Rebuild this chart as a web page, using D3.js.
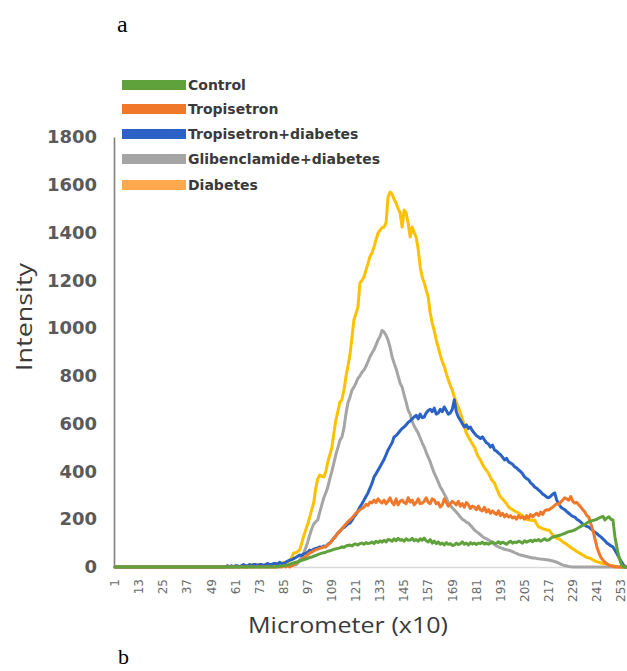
<!DOCTYPE html>
<html><head><meta charset="utf-8">
<script src="https://cdn.jsdelivr.net/npm/d3@7"></script>
<style>body{margin:0;background:#fff}svg{display:block}</style>
</head><body><svg id="c" width="627" height="671"></svg>
<script>
const categories = d3.range(1, 257);
const xTickLabels = [1,13,25,37,49,61,73,85,97,109,121,133,145,157,169,181,193,205,217,229,241,253];
const yTicks = [0,200,400,600,800,1000,1200,1400,1600,1800];
const seriesNames = ["Control","Tropisetron","Tropisetron+diabetes","Glibenclamide+diabetes","Diabetes"];

const control = [
0,0,0,0,0,0,0,0,0,0, 0,0,0,0,0,0,0,0,0,0, 0,0,0,0,0,0,0,0,0,0, 0,0,0,0,0,0,0,0,0,0, 0,0,0,0,0,0,0,0,0,0,
0,0,0,0,0,0,0,0,0,0, 0,0,0,0,0,0,0,0,0,0, 0,0,0,0,0,0,0,0,0,0,
0,2,3,4,5,6,8,10,15,17,
20,22,25,28,30,33,36,40,42,45,
48,52,55,58,60,62,66,68,71,74,
76,78,80,85,82,88,90,92,88,95,
96,92,98,100,95,102,98,100,105,98,
108,102,110,104,112,105,115,113,108,118,
110,120,112,115,108,118,112,113,120,110,
115,108,118,112,121,110,105,115,100,108,
98,105,95,100,92,102,95,98,90,92,
100,94,98,105,95,100,92,102,96,100,
94,100,98,104,96,100,95,100,105,98,
100,106,98,104,100,95,103,108,100,105,
102,108,105,100,110,104,108,112,106,113,
110,115,108,113,118,112,113,120,125,128,
130,132,134,138,140,145,148,150,152,155,
160,165,170,175,178,184,190,192,195,197,
200,205,209,212,197,205,210,200,197,126,
80,42,15,0,0,0];

const tropisetron = [
0,0,0,0,0,0,0,0,0,0, 0,0,0,0,0,0,0,0,0,0, 0,0,0,0,0,0,0,0,0,0, 0,0,0,0,0,0,0,0,0,0, 0,0,0,0,0,0,0,0,0,0,
0,0,0,0,0,0,0,0,0,0, 0,0,0,0,0,0,0,0,0,0, 0,0,0,0,0,0,0,0,0,0,
0,0,0,0,5,0,5,0,5,10,
15,20,25,30,38,45,52,59,62,68,
72,75,78,80,84,86,92,100,110,120,
130,142,150,160,170,180,190,197,205,215,
225,232,240,245,251,262,258,272,268,280,
270,285,275,268,280,265,275,290,270,260,
285,260,275,280,270,265,290,272,280,260,
270,285,265,268,275,290,270,265,285,280,
265,270,251,260,285,270,255,265,275,268,
260,275,255,265,250,270,260,245,255,250,
240,255,239,235,250,230,240,225,235,226,
220,235,215,225,210,220,209,215,205,210,
200,215,205,210,200,215,205,220,210,218,
225,215,230,220,235,240,239,245,250,258,
265,262,272,280,290,285,280,295,275,268,
270,260,251,240,230,215,209,180,155,120,
84,60,40,29,20,14,8,5,3,1,
0,0,0,0,0,0];

const tropisetronDiabetes = [
0,0,0,0,0,0,0,0,0,0, 0,0,0,0,0,0,0,0,0,0, 0,0,0,0,0,0,0,0,0,0, 0,0,0,0,0,0,0,0,0,0, 0,0,0,0,0,0,0,0,0,0,
0,0,0,0,0,0,5,0,5,0,
5,5,0,5,10,5,5,10,5,10,
10,5,10,10,5,10,15,10,10,15,
15,10,20,15,15,20,25,29,30,35,
40,45,50,48,55,58,62,71,68,75,
78,80,84,82,88,84,95,100,110,120,
130,142,150,160,165,172,180,184,195,210,
220,235,251,265,280,295,310,330,350,377,
390,405,420,435,450,470,490,505,520,544,
550,560,570,580,586,595,605,612,620,628,
635,620,640,625,628,645,655,660,650,665,
640,645,660,650,670,655,640,645,660,700,
650,628,615,600,586,595,580,586,570,560,
550,544,538,545,532,520,515,502,510,490,
485,477,470,460,448,455,440,435,430,420,
415,406,400,390,377,370,365,352,345,335,
330,322,315,305,300,293,290,296,305,310,
280,265,251,245,240,232,225,218,212,209,
200,195,188,180,175,170,167,160,152,145,
140,132,126,118,110,100,95,88,84,70,
55,40,25,12,0,0];

const glibenclamideDiabetes = [
0,0,0,0,0,0,0,0,0,0, 0,0,0,0,0,0,0,0,0,0, 0,0,0,0,0,0,0,0,0,0, 0,0,0,0,0,0,0,0,0,0, 0,0,0,0,0,0,0,0,0,0,
0,0,0,0,0,0,0,0,0,0,
0,0,0,5,0,0,0,5,0,0,
5,5,0,5,5,5,5,10,5,5,
10,5,10,10,5,10,10,10,5,8,
8,15,30,45,59,80,105,134,160,180,
190,197,230,260,290,310,335,370,400,435,
470,500,530,544,580,640,687,710,740,753,
770,790,800,815,825,840,860,880,896,910,
930,950,965,990,984,970,950,920,880,854,
830,800,770,753,720,690,657,640,610,590,
575,561,540,520,502,480,460,440,415,393,
375,355,335,322,305,290,268,258,248,239,
230,220,209,200,195,188,184,175,165,155,
148,142,135,128,122,118,113,108,102,95,
88,84,80,78,74,72,71,68,64,60,
57,53,50,48,46,44,42,40,38,38,
36,35,33,32,31,30,29,27,25,23,
20,16,12,8,6,4,2,1,0,0,
0,0,0,0,0,0,0,0,0,0,
0,0,0,0,0,0,0,0,0,0,
0,0,0,0,0,0];

const diabetes = [
0,0,0,0,0,0,0,0,0,0, 0,0,0,0,0,0,0,0,0,0, 0,0,0,0,0,0,0,0,0,0, 0,0,0,0,0,0,0,0,0,0, 0,0,0,0,0,0,0,0,0,0,
0,0,0,0,0,0,5,0,0,0,
5,0,0,5,0,0,0,5,10,5,
5,10,5,5,10,5,10,10,5,10,
10,15,10,15,20,15,20,25,40,59,
60,65,71,100,130,155,180,210,240,270,
330,370,385,380,377,400,440,470,500,560,
615,650,690,700,740,795,840,887,960,1034,
1060,1088,1189,1200,1214,1243,1270,1300,1314,1340,
1370,1398,1410,1420,1423,1440,1549,1570,1560,1540,
1524,1500,1482,1423,1494,1482,1440,1381,1423,1400,
1381,1330,1256,1214,1190,1160,1130,1063,1020,990,
950,920,887,860,840,810,783,760,740,712,
690,670,645,620,590,560,544,530,515,502,
480,460,448,430,415,405,393,375,360,352,
330,310,293,285,275,265,251,245,240,235,
230,226,220,215,205,200,197,197,195,197,
180,167,165,160,158,155,155,145,135,125,
120,118,113,105,100,95,88,82,76,71,
65,60,55,50,45,40,38,35,30,25,
22,20,17,15,12,10,8,6,5,3,
2,0,0,0,0,0];

const lineColors = ["#5fa23c","#f0782a","#2b62c6","#a5a5a5","#ffc000"];
const legendColors = ["#5fa23c","#f0782a","#2b62c6","#a5a5a5","#ffa850"];
const seriesValues = [control, tropisetron, tropisetronDiabetes, glibenclamideDiabetes, diabetes];

const svg = d3.select("#c");
svg.append("rect").attr("width",627).attr("height",671).attr("fill","#fff");

const x = d3.scaleBand().domain(categories).range([114, 628]).paddingInner(0).paddingOuter(0);
const y = d3.scaleLinear().domain([0, 1800]).range([567, 137]);
const bw = x.bandwidth();

// x axis
const xAxis = svg.append("g").attr("transform","translate(0,567)")
  .call(d3.axisBottom(x).tickValues(xTickLabels).tickSize(0).tickSizeOuter(0));
xAxis.select(".domain").attr("stroke","#d9d9d9").attr("stroke-width",1.5);
xAxis.selectAll("text")
  .attr("font-family","DejaVu Sans").attr("font-size","12px").attr("fill","#6a6a6a")
  .attr("text-anchor","end")
  .attr("transform","rotate(-90)")
  .attr("x",-12).attr("y",0).attr("dy","0.35em");

// y axis
const yAxis = svg.append("g").attr("transform","translate(114,0)")
  .call(d3.axisLeft(y).tickValues(yTicks).tickFormat(d3.format("d")).tickSize(0).tickSizeOuter(0).tickPadding(17));
yAxis.select(".domain").attr("stroke","#7f7f7f").attr("stroke-width",1.6);
yAxis.selectAll("text")
  .attr("font-family","DejaVu Sans").attr("font-weight","bold").attr("font-size","18px").attr("fill","#5a5a5a");

// lines (drawn so Control ends on top)
const line = d3.line().x((d,i)=>x(categories[i]) + bw/2).y(d=>y(d)).curve(d3.curveLinear);
const order = [4,3,2,1,0];
order.forEach(k=>{
  svg.append("path").datum(seriesValues[k])
    .attr("fill","none").attr("stroke",lineColors[k]).attr("stroke-width",3)
    .attr("stroke-linejoin","round").attr("stroke-linecap","round")
    .attr("d",line);
});

// legend
const leg = svg.append("g");
const legY = [85,109,134,159,185];
seriesNames.forEach((n,i)=>{
  leg.append("rect").attr("x",122).attr("y",legY[i]-5).attr("width",64).attr("height",10).attr("fill",legendColors[i]);
  leg.append("text").attr("x",188).attr("y",legY[i]).attr("dy","0.36em")
    .attr("font-family","DejaVu Sans").attr("font-weight","bold").attr("font-size","14px").attr("fill","#3a3a3a")
    .text(n);
});

// titles
svg.append("text").attr("x",348).attr("y",633)
  .attr("text-anchor","middle").attr("font-family","Open Sans").attr("font-size","21px").attr("fill","#3a3a3a")
  .attr("textLength",200).attr("lengthAdjust","spacingAndGlyphs")
  .text("Micrometer (x10)");
svg.append("text").attr("transform","translate(32,317) rotate(-90)")
  .attr("text-anchor","middle").attr("font-family","Open Sans").attr("font-size","21px").attr("fill","#3a3a3a")
  .attr("textLength",108).attr("lengthAdjust","spacingAndGlyphs")
  .text("Intensity");

// panel letters
svg.append("text").attr("x",117).attr("y",32).attr("font-family","Liberation Serif").attr("font-size","24px").attr("fill","#000").text("a");
svg.append("text").attr("x",118).attr("y",664).attr("font-family","Liberation Serif").attr("font-size","22px").attr("fill","#000").text("b");
</script>
</body></html>
